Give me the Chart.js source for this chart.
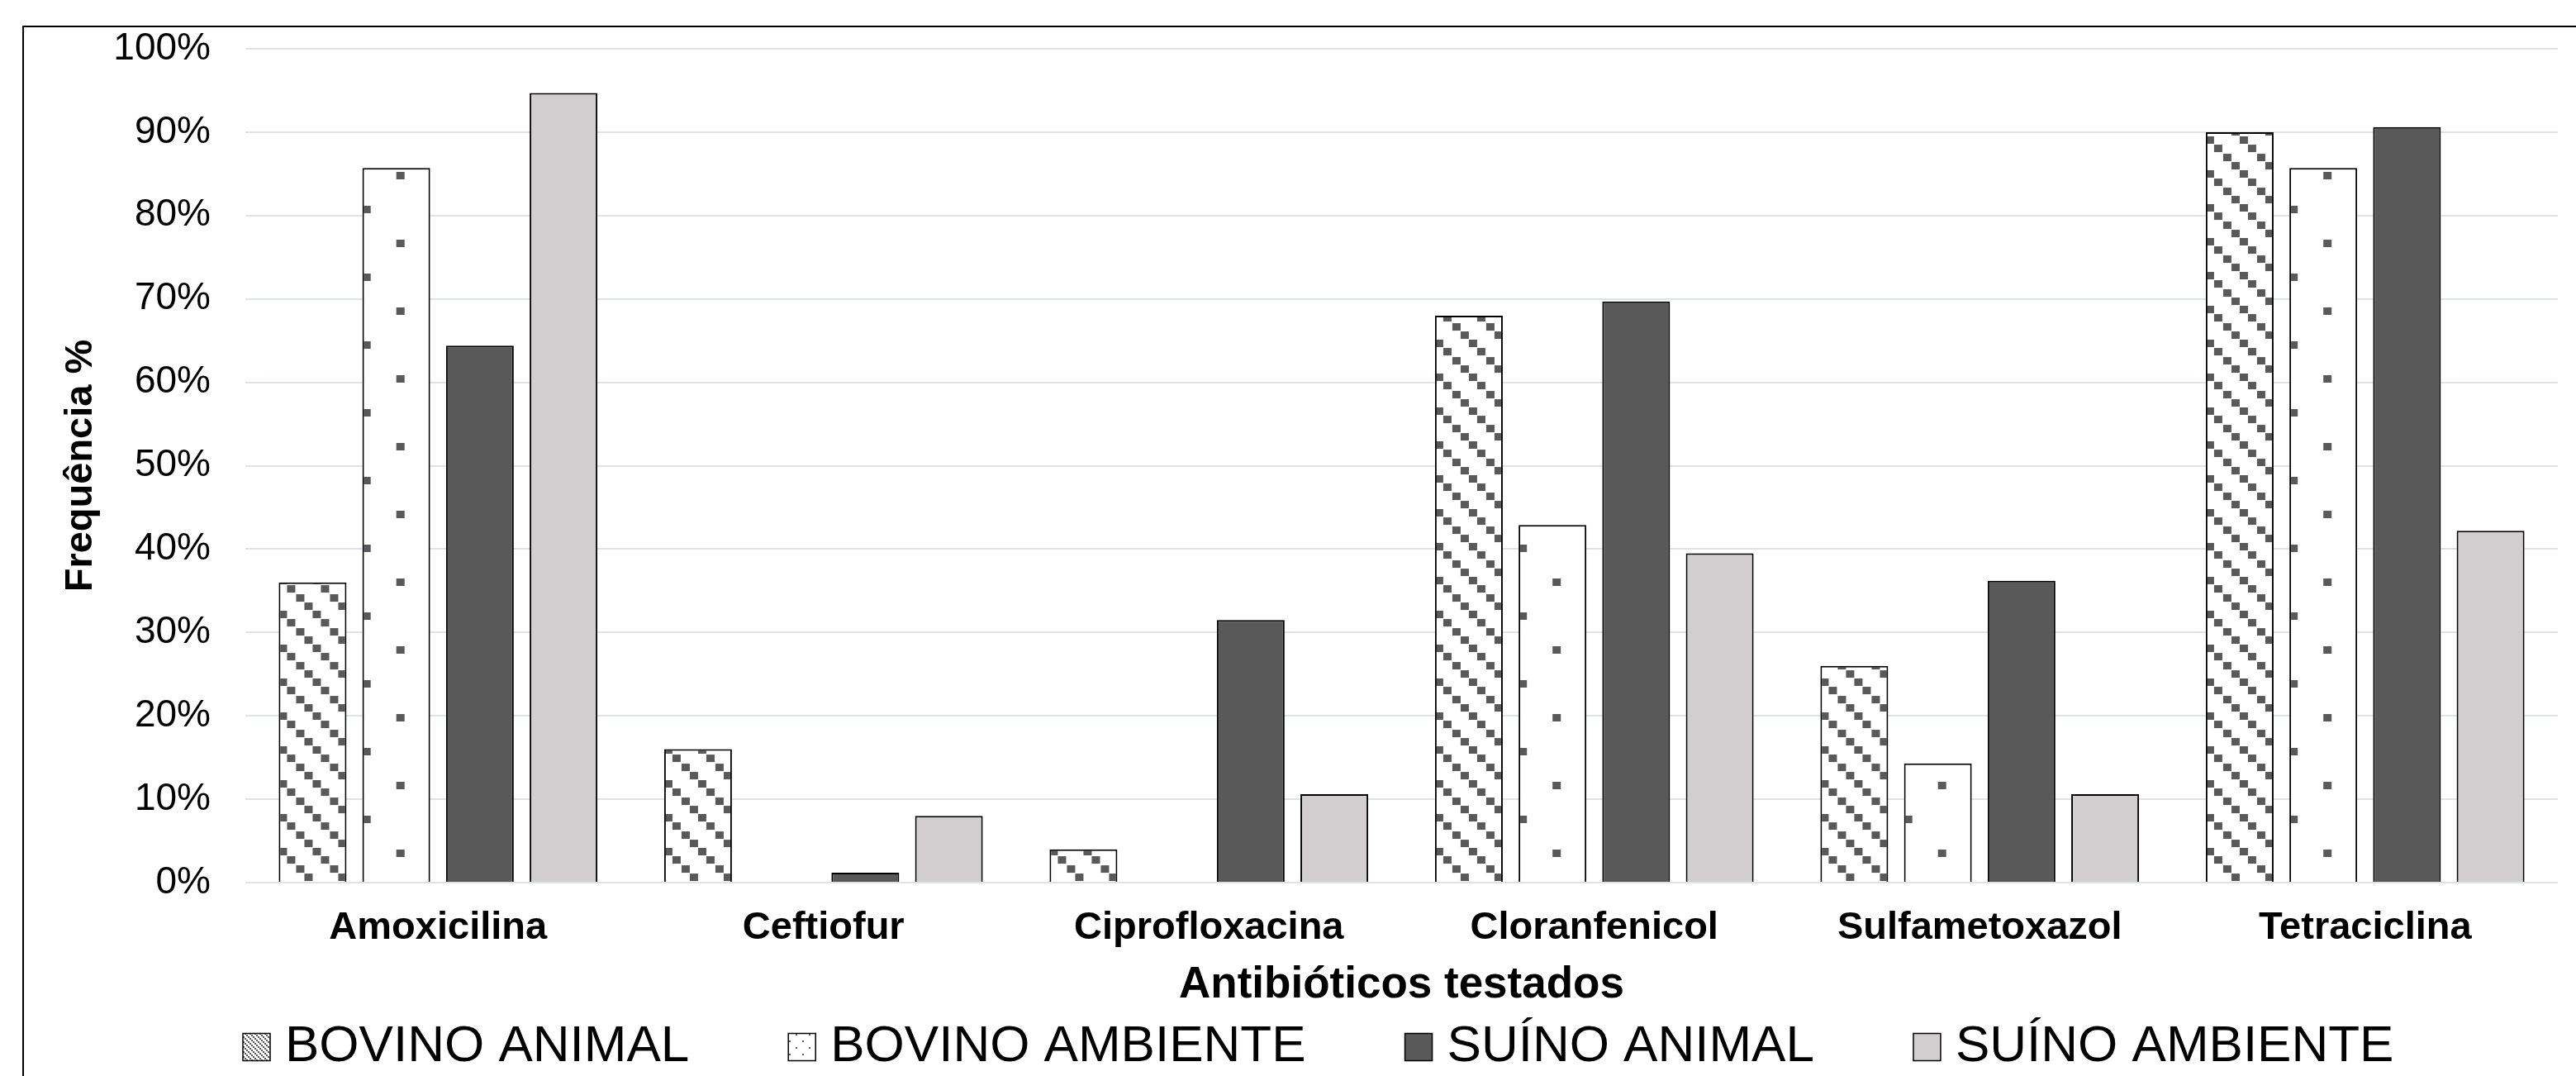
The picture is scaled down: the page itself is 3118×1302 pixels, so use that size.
<!DOCTYPE html>
<html lang="pt">
<head>
<meta charset="UTF-8">
<title>Frequência de resistência aos antibióticos</title>
<script src="https://cdn.jsdelivr.net/npm/chart.js"></script>
<style>
  html, body { margin: 0; padding: 0; background: #fff; overflow: hidden; }
  #grafico { display: block; }
</style>
</head>
<body>
<canvas id="grafico" width="3118" height="1302"></canvas>
<script>
// dados (%)
const categorias = ['Amoxicilina', 'Ceftiofur', 'Ciprofloxacina', 'Cloranfenicol', 'Sulfametoxazol', 'Tetraciclina'];
const bovinoAnimal   = [36.0, 16.0, 4.0, 68.0, 26.0, 90.0];
const bovinoAmbiente = [85.7, 0, 0, 42.9, 14.3, 85.7];
const suinoAnimal    = [64.4, 1.2, 31.5, 69.7, 36.2, 90.6];
const suinoAmbiente  = [94.7, 8.0, 10.6, 39.5, 10.6, 42.2];
const nomesSeries = ['BOVINO ANIMAL', 'BOVINO AMBIENTE', 'SUÍNO ANIMAL', 'SUÍNO AMBIENTE'];
const ticksY = [0, 10, 20, 30, 40, 50, 60, 70, 80, 90, 100];

const FONTE = '"Liberation Sans", Arial, sans-serif';
const CINZA_ESCURO = '#595959';
const CINZA_CLARO = '#d0cece';
const CAT_PCT = 0.868;
const BAR_PCT = 0.81;

Chart.defaults.font.family = FONTE;
Chart.defaults.color = '#000';

// ladrilhos das texturas
function ladrilho(tam, desenha) {
  const c = document.createElement('canvas');
  c.width = tam; c.height = tam;
  const g = c.getContext('2d');
  g.fillStyle = '#fff';
  g.fillRect(0, 0, tam, tam);
  g.fillStyle = CINZA_ESCURO;
  desenha(g);
  return c;
}
const ladDiagonal = ladrilho(41, g => { [0, 10, 21, 31].forEach(o => g.fillRect(o, o, 10, 9)); });
const ladPontos = ladrilho(82, g => { g.fillRect(0, 3, 10, 9); g.fillRect(41, 44, 10, 9); });
const ladDiagonalPeq = ladrilho(6, g => { g.fillRect(0, 0, 2, 2); g.fillRect(2, 2, 2, 2); g.fillRect(4, 4, 2, 2); });
const ladPontosPeq = ladrilho(16, g => { g.fillRect(3, 3, 2, 2); g.fillRect(11, 11, 2, 2); });

const ctx = document.getElementById('grafico').getContext('2d');

// textura presa à borda esquerda de cada barra, como no Excel
function texturaBarra(lad, dy) {
  return function (c) {
    const chart = c.chart;
    const pat = chart.ctx.createPattern(lad, 'repeat');
    if (c.type === 'data' && chart.scales.x) {
      const x = chart.scales.x;
      const n = chart.data.labels.length;
      const ns = chart.data.datasets.length;
      const slot = x.width / n * CAT_PCT / ns;
      const esq = x.getPixelForValue(c.dataIndex) - slot * ns / 2 + slot * c.datasetIndex + slot * (1 - BAR_PCT) / 2;
      if (isFinite(esq)) pat.setTransform(new DOMMatrix().translate(esq, dy));
    }
    return pat;
  };
}

const moldura = {
  id: 'moldura',
  beforeDraw(chart) {
    const g = chart.ctx;
    g.save();
    g.fillStyle = '#fff';
    g.fillRect(0, 0, chart.width, chart.height);
    g.strokeStyle = '#000';
    g.lineWidth = 2;
    g.strokeRect(28, 32, 4000, 4000);
    g.restore();
  }
};

const legenda = {
  id: 'legenda',
  afterDraw(chart) {
    const g = chart.ctx;
    g.save();
    g.font = '62px ' + FONTE;
    g.textBaseline = 'middle';
    const caixa = 33, gapTexto = 18, gapItem = 120, centro = 1596, y = 1267;
    const itens = chart.data.datasets.map(ds => ({
      ds, w: caixa + gapTexto + g.measureText(ds.label).width
    }));
    const total = itens.reduce((s, it) => s + it.w, 0) + gapItem * (itens.length - 1);
    let x = Math.round(centro - total / 2);
    itens.forEach(it => {
      const fundo = it.ds.legendaFundo;
      g.fillStyle = typeof fundo === 'string' ? fundo : g.createPattern(fundo, 'repeat');
      g.fillRect(x, y - caixa / 2, caixa, caixa);
      g.strokeStyle = '#000';
      g.lineWidth = 1.5;
      g.strokeRect(x, y - caixa / 2, caixa, caixa);
      g.fillStyle = '#000';
      g.fillText(it.ds.label, x + caixa + gapTexto, y);
      x += it.w + gapItem;
    });
    g.restore();
  }
};

new Chart(ctx, {
  type: 'bar',
  data: {
    labels: categorias,
    datasets: [
      { label: nomesSeries[0], data: bovinoAnimal, backgroundColor: texturaBarra(ladDiagonal, 1), legendaFundo: ladDiagonalPeq },
      { label: nomesSeries[1], data: bovinoAmbiente, backgroundColor: texturaBarra(ladPontos, 0), legendaFundo: ladPontosPeq },
      { label: nomesSeries[2], data: suinoAnimal, backgroundColor: CINZA_ESCURO, legendaFundo: CINZA_ESCURO },
      { label: nomesSeries[3], data: suinoAmbiente, backgroundColor: CINZA_CLARO, legendaFundo: CINZA_CLARO }
    ]
  },
  options: {
    responsive: false,
    animation: false,
    devicePixelRatio: 1,
    events: [],
    layout: { padding: { left: 27, right: 22, top: 59, bottom: 78 } },
    datasets: {
      bar: {
        categoryPercentage: CAT_PCT,
        barPercentage: BAR_PCT,
        borderColor: '#000',
        borderWidth: 2
      }
    },
    scales: {
      x: {
        grid: { display: false, drawTicks: false },
        border: { display: false },
        ticks: { padding: 27, font: { size: 47, weight: 'bold' }, color: '#000' },
        title: { display: true, text: 'Antibióticos testados', font: { size: 53, weight: 'bold' }, color: '#000', padding: { top: 0, bottom: 0 } },
        afterFit(axis) { axis.height = 156; }
      },
      y: {
        min: 0,
        max: 100,
        afterBuildTicks(axis) { axis.ticks = ticksY.map(v => ({ value: v })); },
        grid: { color: '#dfe3e9', lineWidth: 2, drawTicks: false },
        border: { display: false },
        ticks: { padding: 42, font: { size: 46 }, color: '#000', callback: v => v + '%' },
        title: { display: true, text: 'Frequência %', font: { size: 47, weight: 'bold' }, color: '#000', padding: { top: 43, bottom: 0 } },
        afterFit(axis) {
          axis.width = 270;
          axis.paddingTop = 0;
          axis.paddingBottom = 0;
        }
      }
    },
    plugins: {
      legend: { display: false },
      tooltip: { enabled: false }
    }
  },
  plugins: [moldura, legenda]
});
</script>
</body>
</html>
